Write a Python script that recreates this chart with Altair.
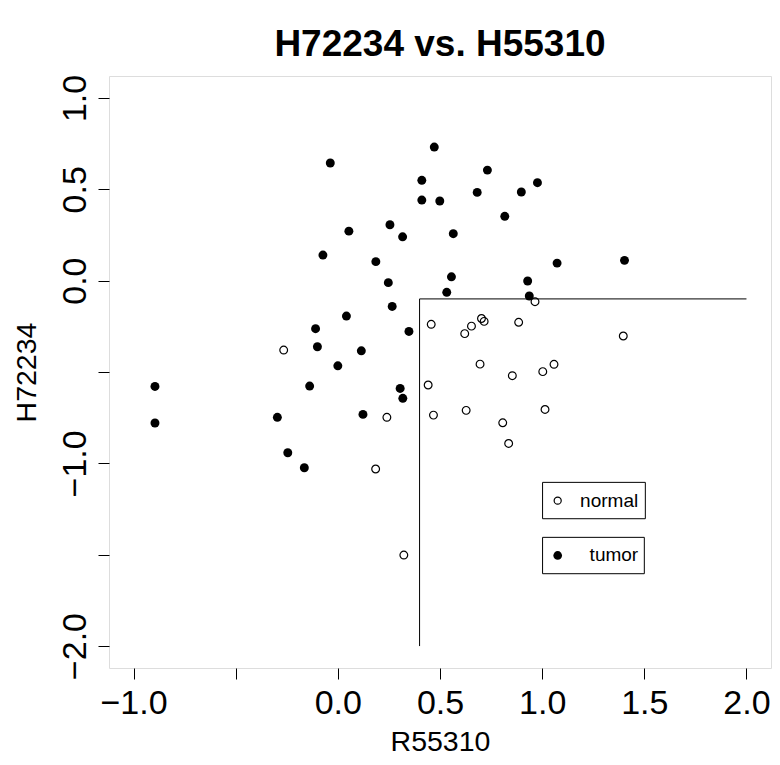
import altair as alt
import pandas as pd

# ---- data ----
normal_x = [-0.265, 0.457, 0.442, 0.468, 0.240, 0.185, 0.965, 0.885, 1.397, 0.621, 0.654,
            0.703, 0.716, 0.696, 0.854, 1.003, 1.058, 0.628, 1.014, 0.807, 0.836, 0.323]
normal_y = [-0.380, -0.239, -0.571, -0.736, -0.748, -1.031, -0.115, -0.228, -0.303, -0.290, -0.249,
            -0.207, -0.223, -0.457, -0.520, -0.498, -0.458, -0.710, -0.705, -0.778, -0.891, -1.502]

tumor_x = [-0.037, 0.054, -0.073, 0.042, -0.109, -0.100, 0.000, 0.266, 0.348, 0.115, -0.895,
           -0.138, 0.305, 0.318, -0.895, -0.296, 0.123, -0.245, -0.164, 0.472, 0.732, 0.411,
           0.977, 0.682, 0.898, 0.411, 0.499, 0.817, 0.255, 0.317, 0.565, 0.186, 1.073, 1.403,
           0.247, 0.556, 0.929, 0.533, 0.937]
tumor_y = [0.644, 0.271, 0.140, -0.194, -0.263, -0.362, -0.466, -0.141, -0.278, -0.384, -0.579,
           -0.577, -0.590, -0.644, -0.779, -0.748, -0.732, -0.942, -1.024, 0.731, 0.605, 0.549,
           0.536, 0.483, 0.485, 0.441, 0.436, 0.352, 0.306, 0.240, 0.257, 0.104, 0.096, 0.111,
           -0.011, 0.021, -0.002, -0.064, -0.084]

x_ticks = [-1.0, -0.5, 0.0, 0.5, 1.0, 1.5, 2.0]
y_ticks = [-2.0, -1.5, -1.0, -0.5, 0.0, 0.5, 1.0]
x_cut = 0.4
y_cut = -0.1
x_max = 2.0
y_min = -2.0

legend_labels = ["normal", "tumor"]

FONT = "Liberation Sans"

normal_df = pd.DataFrame({"x": normal_x, "y": normal_y})
tumor_df = pd.DataFrame({"x": tumor_x, "y": tumor_y})

xs = alt.Scale(domain=[-1.12, 2.12], nice=False, zero=False)
ys = alt.Scale(domain=[-2.12, 1.12], nice=False, zero=False)

label_expr_x = "datum.value == -0.5 ? '' : replace(format(datum.value, '.1f'), '-', '\u2212')"
label_expr_y = "(datum.value == -0.5 || datum.value == -1.5) ? '' : replace(format(datum.value, '.1f'), '-', '\u2212')"

x_axis = alt.Axis(values=x_ticks, labelExpr=label_expr_x, domain=False, grid=False,
                  tickSize=11, tickColor="black", tickWidth=1,
                  labelFont=FONT, labelFontSize=34, labelColor="black", labelPadding=7,
                  labelFlush=False, labelOverlap=False,
                  title="R55310", titleFont=FONT, titleFontSize=28.5, titleFontWeight="normal",
                  titleColor="black", titleBaseline="alphabetic", titleY=82)
y_axis = alt.Axis(values=y_ticks, labelExpr=label_expr_y, domain=False, grid=False,
                  tickSize=11, tickColor="black", tickWidth=1,
                  labelFont=FONT, labelFontSize=34, labelColor="black", labelPadding=13,
                  labelAngle=-90, labelAlign="center", labelBaseline="alphabetic",
                  labelFlush=False, labelOverlap=False,
                  title="H72234", titleFont=FONT, titleFontSize=28.5, titleFontWeight="normal",
                  titleColor="black", titleAngle=-90, titleAlign="center",
                  titleBaseline="alphabetic", titleX=-74, titleY=296)

normal_pts = alt.Chart(normal_df).mark_point(
    shape="circle", filled=False, color="black", size=60, strokeWidth=1.2, opacity=1
).encode(x=alt.X("x:Q", scale=xs, axis=x_axis), y=alt.Y("y:Q", scale=ys, axis=y_axis))

tumor_pts = alt.Chart(tumor_df).mark_point(
    shape="circle", filled=True, color="black", size=80, opacity=1
).encode(x=alt.X("x:Q", scale=xs), y=alt.Y("y:Q", scale=ys))

# cutoff lines
vline = alt.Chart(pd.DataFrame({"x": [x_cut], "y": [y_min], "y2": [y_cut]})).mark_rule(
    color="black", strokeWidth=1
).encode(x=alt.X("x:Q", scale=xs), y=alt.Y("y:Q", scale=ys), y2="y2:Q")
hline = alt.Chart(pd.DataFrame({"x": [x_cut], "x2": [x_max], "y": [y_cut]})).mark_rule(
    color="black", strokeWidth=1
).encode(x=alt.X("x:Q", scale=xs), x2="x2:Q", y=alt.Y("y:Q", scale=ys))

# legend boxes (drawn in data space like R's legend())
leg_df = pd.DataFrame({
    "label": legend_labels,
    "x1": [1.002, 1.002], "x2": [1.505, 1.500],
    "y1": [-1.104, -1.405], "y2": [-1.303, -1.604],
    "sx": [1.076, 1.076], "sy": [-1.204, -1.504],
    "tx": [1.470, 1.470],
})
leg_box = alt.Chart(leg_df).mark_rect(fill="white", stroke="black", strokeWidth=1).encode(
    x=alt.X("x1:Q", scale=xs), x2="x2:Q", y=alt.Y("y1:Q", scale=ys), y2="y2:Q")
leg_open = alt.Chart(leg_df).transform_filter("datum.label == 'normal'").mark_point(
    shape="circle", filled=False, color="black", size=50, strokeWidth=1.2, opacity=1
).encode(x=alt.X("sx:Q", scale=xs), y=alt.Y("sy:Q", scale=ys))
leg_fill = alt.Chart(leg_df).transform_filter("datum.label == 'tumor'").mark_point(
    shape="circle", filled=True, color="black", size=75, opacity=1
).encode(x=alt.X("sx:Q", scale=xs), y=alt.Y("sy:Q", scale=ys))
leg_text = alt.Chart(leg_df).mark_text(
    font=FONT, fontSize=19, align="right", baseline="middle", color="black"
).encode(x=alt.X("tx:Q", scale=xs), y=alt.Y("sy:Q", scale=ys), text="label:N")

chart = alt.layer(
    normal_pts, tumor_pts, vline, hline, leg_box, leg_open, leg_fill, leg_text
).properties(
    width=662, height=592,
    title=alt.TitleParams("H72234 vs. H55310", font=FONT, fontSize=37, fontWeight="bold",
                          color="black", anchor="middle", frame="group", offset=10),
    padding={"left": 101, "top": 68, "right": 1, "bottom": 89},
    autosize=alt.AutoSizeParams(type="none"),
).configure_view(stroke="black", strokeWidth=1).configure(background="white")

chart.save("out.html", embed_options={"renderer": "svg", "actions": False})
